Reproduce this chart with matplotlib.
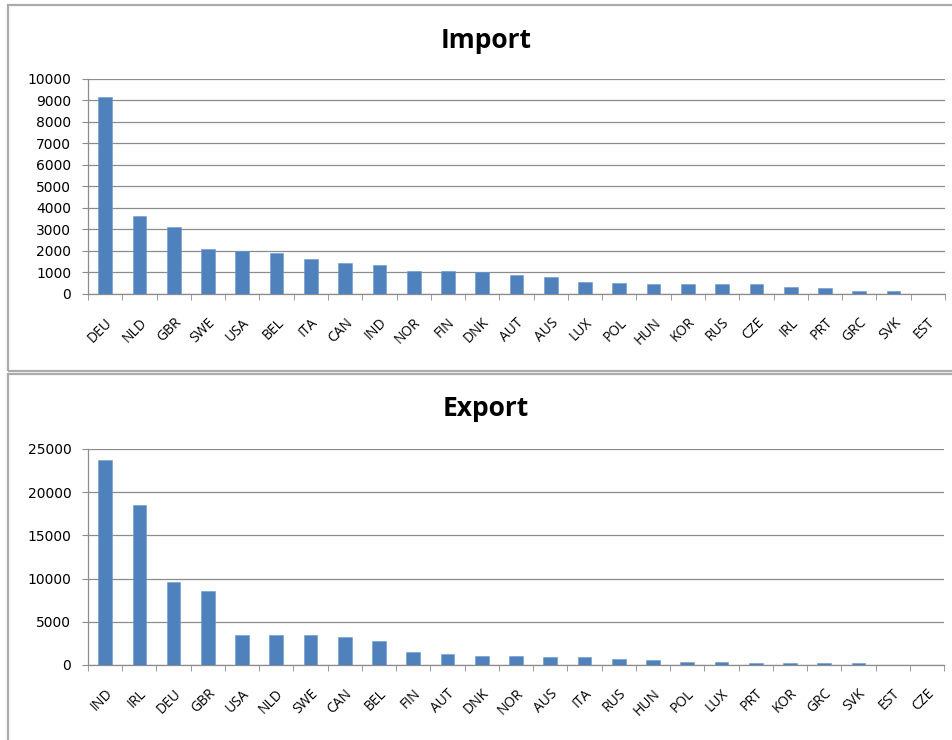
import numpy as np
import matplotlib
matplotlib.use("Agg")
import matplotlib.pyplot as plt
from matplotlib.patches import Rectangle
from matplotlib.transforms import ScaledTranslation

# data
import_countries = ["DEU", "NLD", "GBR", "SWE", "USA", "BEL", "ITA", "CAN", "IND", "NOR",
                    "FIN", "DNK", "AUT", "AUS", "LUX", "POL", "HUN", "KOR", "RUS", "CZE",
                    "IRL", "PRT", "GRC", "SVK", "EST"]
import_values = [9150, 3650, 3130, 2080, 1990, 1900, 1650, 1460, 1340, 1090,
                 1090, 1000, 890, 780, 580, 510, 450, 450, 450, 450,
                 330, 270, 140, 140, 0]

export_countries = ["IND", "IRL", "DEU", "GBR", "USA", "NLD", "SWE", "CAN", "BEL", "FIN",
                    "AUT", "DNK", "NOR", "AUS", "ITA", "RUS", "HUN", "POL", "LUX", "PRT",
                    "KOR", "GRC", "SVK", "EST", "CZE"]
export_values = [23690, 18510, 9620, 8540, 3520, 3520, 3520, 3210, 2740, 1510,
                 1310, 1000, 1000, 890, 890, 700, 540, 390, 390, 230,
                 230, 230, 230, 0, 0]

W, H = 952, 740
BAR = "#4F81BD"
GRID = "#8C8C8C"


def px(x0, y0, x1, y1):
    # pixel box (top-left origin) -> figure fraction rect
    return [x0 / W, 1 - y1 / H, (x1 - x0) / W, (y1 - y0) / H]


def draw_panel(fig, rect, cats, vals, ymax, step, title, title_y):
    ax = fig.add_axes(rect)
    x = np.arange(len(cats))
    ax.bar(x, vals, width=0.4, color=BAR, edgecolor="#6E98CC", linewidth=0.4, zorder=3)
    ax.set_xlim(-0.5, len(cats) - 0.5)
    ax.set_ylim(0, ymax)
    ax.set_yticks(np.arange(0, ymax + 1, step))
    ax.yaxis.grid(True, color=GRID, linewidth=0.9)
    ax.set_axisbelow(True)
    for s in ["top", "right"]:
        ax.spines[s].set_visible(False)
    for s in ["left", "bottom"]:
        ax.spines[s].set_color(GRID)
        ax.spines[s].set_linewidth(0.9)
    ax.tick_params(axis="y", length=4, color=GRID, pad=8, labelsize=10)
    ax.set_xticks(x)
    ax.set_xticks(np.arange(-0.5, len(cats)), minor=True)
    ax.tick_params(axis="x", which="major", length=0, pad=19)
    ax.tick_params(axis="x", which="minor", length=4, color=GRID)
    ax.set_xticklabels(cats, rotation=45, ha="right", va="center",
                       rotation_mode="anchor", fontsize=10, family="Open Sans")
    off = ScaledTranslation(5 / 100, 0, fig.dpi_scale_trans)
    for lbl in ax.get_xticklabels():
        lbl.set_transform(lbl.get_transform() + off)
    fig.text(486 / W, 1 - title_y / H, title, ha="center", va="center",
             fontsize=19, fontweight="bold", family="Open Sans")
    return ax


fig = plt.figure(figsize=(W / 100, H / 100), dpi=100)

# panel frames
fig.patches.append(Rectangle((8 / W, 1 - 371 / H), 1, (371 - 5) / H, transform=fig.transFigure,
                             fill=False, edgecolor="#ABABAB", linewidth=1.6))
fig.patches.append(Rectangle((8 / W, -0.1), 1, 0.1 + (1 - 374 / H), transform=fig.transFigure,
                             fill=False, edgecolor="#ABABAB", linewidth=1.6))

draw_panel(fig, px(88, 79, 945, 294), import_countries, import_values, 10000, 1000, "Import", 40)
draw_panel(fig, px(88, 449, 944, 665), export_countries, export_values, 25000, 5000, "Export", 408)

fig.savefig("out.png", dpi=100)
